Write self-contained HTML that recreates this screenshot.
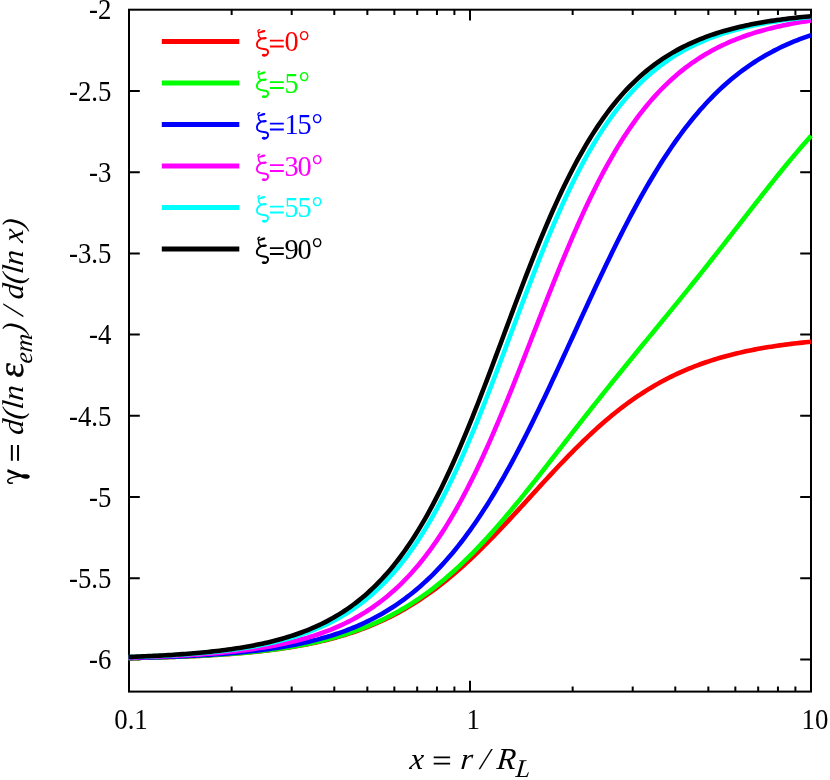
<!DOCTYPE html>
<html><head><meta charset="utf-8"><title>plot</title>
<style>
html,body{margin:0;padding:0;background:#fff;}
svg{display:block;will-change:transform;}
text{font-family:"Liberation Serif",serif;}
</style></head><body>
<svg width="830" height="780" viewBox="0 0 830 780">
<rect x="0" y="0" width="830" height="780" fill="#ffffff"/>
<g stroke="#000" stroke-width="2" fill="none" stroke-linecap="butt">
<rect x="129.00" y="9.70" width="682.00" height="681.90"/>
<path d="M231.65 691.60 v-5.20 M231.65 9.70 v5.20"/>
<path d="M291.70 691.60 v-5.20 M291.70 9.70 v5.20"/>
<path d="M334.30 691.60 v-5.20 M334.30 9.70 v5.20"/>
<path d="M367.35 691.60 v-5.20 M367.35 9.70 v5.20"/>
<path d="M394.35 691.60 v-5.20 M394.35 9.70 v5.20"/>
<path d="M417.18 691.60 v-5.20 M417.18 9.70 v5.20"/>
<path d="M436.95 691.60 v-5.20 M436.95 9.70 v5.20"/>
<path d="M454.40 691.60 v-5.20 M454.40 9.70 v5.20"/>
<path d="M470.00 691.60 v-10.80 M470.00 9.70 v10.80"/>
<path d="M572.65 691.60 v-5.20 M572.65 9.70 v5.20"/>
<path d="M632.70 691.60 v-5.20 M632.70 9.70 v5.20"/>
<path d="M675.30 691.60 v-5.20 M675.30 9.70 v5.20"/>
<path d="M708.35 691.60 v-5.20 M708.35 9.70 v5.20"/>
<path d="M735.35 691.60 v-5.20 M735.35 9.70 v5.20"/>
<path d="M758.18 691.60 v-5.20 M758.18 9.70 v5.20"/>
<path d="M777.95 691.60 v-5.20 M777.95 9.70 v5.20"/>
<path d="M795.40 691.60 v-5.20 M795.40 9.70 v5.20"/>
<path d="M129.00 90.93 h10.80 M811.00 90.93 h-10.80"/>
<path d="M129.00 172.16 h10.80 M811.00 172.16 h-10.80"/>
<path d="M129.00 253.39 h10.80 M811.00 253.39 h-10.80"/>
<path d="M129.00 334.62 h10.80 M811.00 334.62 h-10.80"/>
<path d="M129.00 415.85 h10.80 M811.00 415.85 h-10.80"/>
<path d="M129.00 497.08 h10.80 M811.00 497.08 h-10.80"/>
<path d="M129.00 578.31 h10.80 M811.00 578.31 h-10.80"/>
<path d="M129.00 659.54 h10.80 M811.00 659.54 h-10.80"/>
</g>
<g fill="none" stroke-width="4.6" stroke-linecap="butt" stroke-linejoin="round">
<path d="M128.50 658.11 L131.34 658.06 L134.19 658.00 L137.03 657.94 L139.88 657.88 L142.72 657.81 L145.57 657.74 L148.41 657.67 L151.25 657.60 L154.10 657.53 L156.94 657.45 L159.79 657.37 L162.63 657.28 L165.48 657.19 L168.32 657.10 L171.17 657.01 L174.01 656.91 L176.85 656.81 L179.70 656.70 L182.54 656.59 L185.39 656.48 L188.23 656.36 L191.08 656.23 L193.92 656.11 L196.76 655.97 L199.61 655.84 L202.45 655.69 L205.30 655.54 L208.14 655.39 L210.99 655.23 L213.83 655.06 L216.68 654.89 L219.52 654.71 L222.36 654.52 L225.21 654.33 L228.05 654.13 L230.90 653.92 L233.74 653.70 L236.59 653.48 L239.43 653.25 L242.28 653.01 L245.12 652.76 L247.96 652.50 L250.81 652.23 L253.65 651.95 L256.50 651.66 L259.34 651.36 L262.19 651.04 L265.03 650.72 L267.87 650.38 L270.72 650.04 L273.56 649.68 L276.41 649.30 L279.25 648.91 L282.10 648.51 L284.94 648.09 L287.78 647.66 L290.63 647.22 L293.47 646.75 L296.32 646.27 L299.16 645.77 L302.01 645.26 L304.85 644.72 L307.70 644.17 L310.54 643.60 L313.38 643.01 L316.23 642.39 L319.07 641.76 L321.92 641.10 L324.76 640.42 L327.61 639.72 L330.45 638.99 L333.29 638.24 L336.14 637.46 L338.98 636.66 L341.83 635.83 L344.67 634.97 L347.52 634.08 L350.36 633.17 L353.21 632.22 L356.05 631.25 L358.89 630.24 L361.74 629.20 L364.58 628.12 L367.43 627.02 L370.27 625.88 L373.12 624.70 L375.96 623.49 L378.81 622.24 L381.65 620.95 L384.49 619.62 L387.34 618.26 L390.18 616.85 L393.03 615.41 L395.87 613.92 L398.72 612.40 L401.56 610.83 L404.40 609.21 L407.25 607.56 L410.09 605.86 L412.94 604.12 L415.78 602.33 L418.63 600.50 L421.47 598.62 L424.31 596.69 L427.16 594.72 L430.00 592.71 L432.85 590.64 L435.69 588.54 L438.54 586.38 L441.38 584.18 L444.23 581.93 L447.07 579.64 L449.91 577.31 L452.76 574.92 L455.60 572.50 L458.45 570.03 L461.29 567.52 L464.14 564.96 L466.98 562.36 L469.82 559.73 L472.67 557.05 L475.51 554.34 L478.36 551.59 L481.20 548.80 L484.05 545.98 L486.89 543.13 L489.74 540.24 L492.58 537.33 L495.42 534.38 L498.27 531.42 L501.11 528.42 L503.96 525.41 L506.80 522.37 L509.65 519.32 L512.49 516.25 L515.33 513.17 L518.18 510.07 L521.02 506.97 L523.87 503.85 L526.71 500.74 L529.56 497.62 L532.40 494.50 L535.25 491.38 L538.09 488.27 L540.93 485.16 L543.78 482.06 L546.62 478.97 L549.47 475.90 L552.31 472.84 L555.16 469.80 L558.00 466.77 L560.85 463.77 L563.69 460.80 L566.53 457.84 L569.38 454.92 L572.22 452.02 L575.07 449.16 L577.91 446.33 L580.76 443.53 L583.60 440.77 L586.44 438.04 L589.29 435.35 L592.13 432.70 L594.98 430.09 L597.82 427.52 L600.67 424.99 L603.51 422.51 L606.36 420.07 L609.20 417.67 L612.04 415.32 L614.89 413.01 L617.73 410.75 L620.58 408.53 L623.42 406.36 L626.27 404.24 L629.11 402.16 L631.95 400.13 L634.80 398.14 L637.64 396.20 L640.49 394.31 L643.33 392.46 L646.18 390.65 L649.02 388.90 L651.87 387.18 L654.71 385.51 L657.55 383.88 L660.40 382.30 L663.24 380.76 L666.09 379.26 L668.93 377.80 L671.78 376.38 L674.62 375.00 L677.46 373.66 L680.31 372.36 L683.15 371.10 L686.00 369.88 L688.84 368.69 L691.69 367.53 L694.53 366.41 L697.38 365.33 L700.22 364.28 L703.06 363.26 L705.91 362.27 L708.75 361.31 L711.60 360.39 L714.44 359.49 L717.29 358.62 L720.13 357.78 L722.97 356.97 L725.82 356.18 L728.66 355.42 L731.51 354.69 L734.35 353.98 L737.20 353.29 L740.04 352.62 L742.88 351.98 L745.73 351.36 L748.57 350.76 L751.42 350.18 L754.26 349.62 L757.11 349.08 L759.95 348.56 L762.80 348.06 L765.64 347.57 L768.48 347.10 L771.33 346.65 L774.17 346.21 L777.02 345.79 L779.86 345.38 L782.71 344.99 L785.55 344.61 L788.39 344.25 L791.24 343.89 L794.08 343.55 L796.93 343.23 L799.77 342.91 L802.62 342.61 L805.46 342.31 L808.31 342.03 L811.15 341.76" stroke="#ff0000"/>
<path d="M128.50 658.09 L131.34 658.03 L134.19 657.97 L137.03 657.91 L139.88 657.85 L142.72 657.78 L145.57 657.72 L148.41 657.65 L151.25 657.57 L154.10 657.49 L156.94 657.42 L159.79 657.33 L162.63 657.25 L165.48 657.16 L168.32 657.06 L171.17 656.97 L174.01 656.87 L176.85 656.76 L179.70 656.66 L182.54 656.55 L185.39 656.43 L188.23 656.31 L191.08 656.18 L193.92 656.05 L196.76 655.92 L199.61 655.78 L202.45 655.63 L205.30 655.48 L208.14 655.32 L210.99 655.16 L213.83 654.99 L216.68 654.81 L219.52 654.63 L222.36 654.44 L225.21 654.25 L228.05 654.04 L230.90 653.83 L233.74 653.61 L236.59 653.38 L239.43 653.15 L242.28 652.90 L245.12 652.65 L247.96 652.38 L250.81 652.11 L253.65 651.82 L256.50 651.53 L259.34 651.22 L262.19 650.90 L265.03 650.57 L267.87 650.23 L270.72 649.88 L273.56 649.51 L276.41 649.13 L279.25 648.73 L282.10 648.32 L284.94 647.90 L287.78 647.46 L290.63 647.00 L293.47 646.53 L296.32 646.04 L299.16 645.53 L302.01 645.00 L304.85 644.46 L307.70 643.90 L310.54 643.31 L313.38 642.71 L316.23 642.08 L319.07 641.43 L321.92 640.76 L324.76 640.06 L327.61 639.35 L330.45 638.60 L333.29 637.83 L336.14 637.04 L338.98 636.21 L341.83 635.36 L344.67 634.48 L347.52 633.57 L350.36 632.64 L353.21 631.66 L356.05 630.66 L358.89 629.63 L361.74 628.56 L364.58 627.46 L367.43 626.32 L370.27 625.14 L373.12 623.93 L375.96 622.68 L378.81 621.39 L381.65 620.07 L384.49 618.70 L387.34 617.29 L390.18 615.84 L393.03 614.35 L395.87 612.81 L398.72 611.23 L401.56 609.60 L404.40 607.93 L407.25 606.22 L410.09 604.45 L412.94 602.64 L415.78 600.78 L418.63 598.87 L421.47 596.91 L424.31 594.90 L427.16 592.85 L430.00 590.74 L432.85 588.58 L435.69 586.37 L438.54 584.11 L441.38 581.80 L444.23 579.43 L447.07 577.02 L449.91 574.55 L452.76 572.03 L455.60 569.47 L458.45 566.85 L461.29 564.18 L464.14 561.46 L466.98 558.69 L469.82 555.88 L472.67 553.02 L475.51 550.10 L478.36 547.15 L481.20 544.15 L484.05 541.10 L486.89 538.01 L489.74 534.88 L492.58 531.71 L495.42 528.50 L498.27 525.25 L501.11 521.97 L503.96 518.65 L506.80 515.30 L509.65 511.91 L512.49 508.50 L515.33 505.06 L518.18 501.59 L521.02 498.09 L523.87 494.58 L526.71 491.04 L529.56 487.48 L532.40 483.90 L535.25 480.31 L538.09 476.71 L540.93 473.09 L543.78 469.46 L546.62 465.82 L549.47 462.17 L552.31 458.52 L555.16 454.87 L558.00 451.21 L560.85 447.55 L563.69 443.89 L566.53 440.23 L569.38 436.57 L572.22 432.92 L575.07 429.27 L577.91 425.62 L580.76 421.99 L583.60 418.36 L586.44 414.73 L589.29 411.12 L592.13 407.51 L594.98 403.92 L597.82 400.33 L600.67 396.75 L603.51 393.18 L606.36 389.62 L609.20 386.07 L612.04 382.53 L614.89 379.00 L617.73 375.48 L620.58 371.96 L623.42 368.46 L626.27 364.96 L629.11 361.47 L631.95 357.98 L634.80 354.50 L637.64 351.02 L640.49 347.55 L643.33 344.08 L646.18 340.62 L649.02 337.15 L651.87 333.69 L654.71 330.22 L657.55 326.76 L660.40 323.29 L663.24 319.82 L666.09 316.34 L668.93 312.87 L671.78 309.38 L674.62 305.89 L677.46 302.40 L680.31 298.90 L683.15 295.38 L686.00 291.87 L688.84 288.34 L691.69 284.80 L694.53 281.26 L697.38 277.70 L700.22 274.14 L703.06 270.56 L705.91 266.98 L708.75 263.39 L711.60 259.79 L714.44 256.18 L717.29 252.56 L720.13 248.93 L722.97 245.30 L725.82 241.65 L728.66 238.01 L731.51 234.36 L734.35 230.70 L737.20 227.04 L740.04 223.38 L742.88 219.72 L745.73 216.06 L748.57 212.40 L751.42 208.75 L754.26 205.10 L757.11 201.46 L759.95 197.83 L762.80 194.20 L765.64 190.59 L768.48 186.99 L771.33 183.41 L774.17 179.84 L777.02 176.29 L779.86 172.77 L782.71 169.26 L785.55 165.78 L788.39 162.33 L791.24 158.90 L794.08 155.50 L796.93 152.13 L799.77 148.80 L802.62 145.50 L805.46 142.23 L808.31 139.00 L811.15 135.82" stroke="#00ff00"/>
<path d="M128.50 657.94 L131.34 657.87 L134.19 657.81 L137.03 657.74 L139.88 657.67 L142.72 657.60 L145.57 657.52 L148.41 657.44 L151.25 657.36 L154.10 657.27 L156.94 657.19 L159.79 657.09 L162.63 657.00 L165.48 656.90 L168.32 656.80 L171.17 656.69 L174.01 656.58 L176.85 656.46 L179.70 656.34 L182.54 656.22 L185.39 656.09 L188.23 655.96 L191.08 655.82 L193.92 655.67 L196.76 655.52 L199.61 655.36 L202.45 655.20 L205.30 655.03 L208.14 654.86 L210.99 654.68 L213.83 654.49 L216.68 654.29 L219.52 654.09 L222.36 653.88 L225.21 653.66 L228.05 653.43 L230.90 653.19 L233.74 652.94 L236.59 652.69 L239.43 652.42 L242.28 652.15 L245.12 651.86 L247.96 651.56 L250.81 651.26 L253.65 650.94 L256.50 650.60 L259.34 650.26 L262.19 649.90 L265.03 649.53 L267.87 649.14 L270.72 648.74 L273.56 648.33 L276.41 647.90 L279.25 647.45 L282.10 646.99 L284.94 646.50 L287.78 646.01 L290.63 645.49 L293.47 644.95 L296.32 644.39 L299.16 643.81 L302.01 643.21 L304.85 642.59 L307.70 641.94 L310.54 641.28 L313.38 640.58 L316.23 639.86 L319.07 639.12 L321.92 638.34 L324.76 637.54 L327.61 636.71 L330.45 635.85 L333.29 634.96 L336.14 634.03 L338.98 633.08 L341.83 632.08 L344.67 631.06 L347.52 629.99 L350.36 628.89 L353.21 627.75 L356.05 626.57 L358.89 625.35 L361.74 624.09 L364.58 622.78 L367.43 621.42 L370.27 620.02 L373.12 618.57 L375.96 617.08 L378.81 615.53 L381.65 613.93 L384.49 612.27 L387.34 610.57 L390.18 608.80 L393.03 606.98 L395.87 605.09 L398.72 603.15 L401.56 601.14 L404.40 599.07 L407.25 596.94 L410.09 594.73 L412.94 592.46 L415.78 590.12 L418.63 587.71 L421.47 585.22 L424.31 582.66 L427.16 580.02 L430.00 577.31 L432.85 574.52 L435.69 571.65 L438.54 568.69 L441.38 565.66 L444.23 562.54 L447.07 559.33 L449.91 556.04 L452.76 552.67 L455.60 549.20 L458.45 545.65 L461.29 542.01 L464.14 538.28 L466.98 534.45 L469.82 530.54 L472.67 526.54 L475.51 522.44 L478.36 518.25 L481.20 513.98 L484.05 509.61 L486.89 505.15 L489.74 500.60 L492.58 495.96 L495.42 491.23 L498.27 486.41 L501.11 481.51 L503.96 476.53 L506.80 471.45 L509.65 466.30 L512.49 461.07 L515.33 455.76 L518.18 450.37 L521.02 444.91 L523.87 439.38 L526.71 433.78 L529.56 428.11 L532.40 422.39 L535.25 416.60 L538.09 410.76 L540.93 404.86 L543.78 398.92 L546.62 392.93 L549.47 386.90 L552.31 380.84 L555.16 374.74 L558.00 368.61 L560.85 362.46 L563.69 356.28 L566.53 350.10 L569.38 343.90 L572.22 337.69 L575.07 331.48 L577.91 325.28 L580.76 319.08 L583.60 312.89 L586.44 306.72 L589.29 300.56 L592.13 294.44 L594.98 288.34 L597.82 282.27 L600.67 276.24 L603.51 270.26 L606.36 264.31 L609.20 258.42 L612.04 252.58 L614.89 246.79 L617.73 241.06 L620.58 235.40 L623.42 229.80 L626.27 224.27 L629.11 218.81 L631.95 213.42 L634.80 208.11 L637.64 202.88 L640.49 197.73 L643.33 192.66 L646.18 187.67 L649.02 182.77 L651.87 177.96 L654.71 173.23 L657.55 168.59 L660.40 164.04 L663.24 159.59 L666.09 155.22 L668.93 150.94 L671.78 146.75 L674.62 142.66 L677.46 138.66 L680.31 134.74 L683.15 130.92 L686.00 127.19 L688.84 123.55 L691.69 120.00 L694.53 116.54 L697.38 113.16 L700.22 109.87 L703.06 106.67 L705.91 103.55 L708.75 100.51 L711.60 97.56 L714.44 94.69 L717.29 91.90 L720.13 89.19 L722.97 86.55 L725.82 83.99 L728.66 81.51 L731.51 79.09 L734.35 76.75 L737.20 74.48 L740.04 72.28 L742.88 70.14 L745.73 68.07 L748.57 66.07 L751.42 64.13 L754.26 62.24 L757.11 60.42 L759.95 58.66 L762.80 56.95 L765.64 55.29 L768.48 53.69 L771.33 52.15 L774.17 50.65 L777.02 49.20 L779.86 47.80 L782.71 46.45 L785.55 45.14 L788.39 43.88 L791.24 42.66 L794.08 41.48 L796.93 40.34 L799.77 39.23 L802.62 38.17 L805.46 37.14 L808.31 36.15 L811.15 35.20" stroke="#0000ff"/>
<path d="M128.50 657.58 L131.34 657.51 L134.19 657.43 L137.03 657.35 L139.88 657.26 L142.72 657.17 L145.57 657.08 L148.41 656.98 L151.25 656.88 L154.10 656.78 L156.94 656.67 L159.79 656.56 L162.63 656.44 L165.48 656.32 L168.32 656.19 L171.17 656.06 L174.01 655.92 L176.85 655.78 L179.70 655.64 L182.54 655.48 L185.39 655.32 L188.23 655.16 L191.08 654.99 L193.92 654.81 L196.76 654.62 L199.61 654.43 L202.45 654.23 L205.30 654.02 L208.14 653.81 L210.99 653.58 L213.83 653.35 L216.68 653.11 L219.52 652.86 L222.36 652.59 L225.21 652.32 L228.05 652.04 L230.90 651.75 L233.74 651.44 L236.59 651.13 L239.43 650.80 L242.28 650.45 L245.12 650.10 L247.96 649.73 L250.81 649.35 L253.65 648.95 L256.50 648.53 L259.34 648.10 L262.19 647.65 L265.03 647.19 L267.87 646.71 L270.72 646.21 L273.56 645.68 L276.41 645.14 L279.25 644.58 L282.10 644.00 L284.94 643.39 L287.78 642.76 L290.63 642.10 L293.47 641.42 L296.32 640.72 L299.16 639.98 L302.01 639.22 L304.85 638.43 L307.70 637.60 L310.54 636.75 L313.38 635.86 L316.23 634.94 L319.07 633.98 L321.92 632.99 L324.76 631.95 L327.61 630.88 L330.45 629.77 L333.29 628.61 L336.14 627.41 L338.98 626.17 L341.83 624.87 L344.67 623.53 L347.52 622.14 L350.36 620.69 L353.21 619.19 L356.05 617.64 L358.89 616.02 L361.74 614.34 L364.58 612.61 L367.43 610.80 L370.27 608.93 L373.12 607.00 L375.96 604.99 L378.81 602.90 L381.65 600.74 L384.49 598.51 L387.34 596.19 L390.18 593.79 L393.03 591.30 L395.87 588.73 L398.72 586.07 L401.56 583.31 L404.40 580.46 L407.25 577.51 L410.09 574.46 L412.94 571.30 L415.78 568.04 L418.63 564.68 L421.47 561.20 L424.31 557.61 L427.16 553.91 L430.00 550.09 L432.85 546.16 L435.69 542.10 L438.54 537.92 L441.38 533.62 L444.23 529.20 L447.07 524.64 L449.91 519.97 L452.76 515.16 L455.60 510.23 L458.45 505.17 L461.29 499.98 L464.14 494.67 L466.98 489.23 L469.82 483.66 L472.67 477.97 L475.51 472.16 L478.36 466.22 L481.20 460.17 L484.05 454.01 L486.89 447.73 L489.74 441.35 L492.58 434.87 L495.42 428.28 L498.27 421.61 L501.11 414.84 L503.96 407.99 L506.80 401.07 L509.65 394.07 L512.49 387.02 L515.33 379.90 L518.18 372.74 L521.02 365.53 L523.87 358.30 L526.71 351.03 L529.56 343.75 L532.40 336.45 L535.25 329.16 L538.09 321.87 L540.93 314.59 L543.78 307.34 L546.62 300.12 L549.47 292.93 L552.31 285.79 L555.16 278.70 L558.00 271.68 L560.85 264.72 L563.69 257.83 L566.53 251.02 L569.38 244.30 L572.22 237.67 L575.07 231.13 L577.91 224.70 L580.76 218.37 L583.60 212.15 L586.44 206.04 L589.29 200.05 L592.13 194.18 L594.98 188.43 L597.82 182.80 L600.67 177.29 L603.51 171.91 L606.36 166.66 L609.20 161.54 L612.04 156.54 L614.89 151.67 L617.73 146.93 L620.58 142.32 L623.42 137.83 L626.27 133.46 L629.11 129.22 L631.95 125.11 L634.80 121.11 L637.64 117.23 L640.49 113.47 L643.33 109.83 L646.18 106.30 L649.02 102.87 L651.87 99.56 L654.71 96.36 L657.55 93.25 L660.40 90.25 L663.24 87.35 L666.09 84.55 L668.93 81.84 L671.78 79.22 L674.62 76.69 L677.46 74.25 L680.31 71.89 L683.15 69.61 L686.00 67.41 L688.84 65.29 L691.69 63.24 L694.53 61.27 L697.38 59.37 L700.22 57.53 L703.06 55.76 L705.91 54.05 L708.75 52.41 L711.60 50.82 L714.44 49.29 L717.29 47.82 L720.13 46.40 L722.97 45.03 L725.82 43.72 L728.66 42.45 L731.51 41.22 L734.35 40.05 L737.20 38.91 L740.04 37.82 L742.88 36.77 L745.73 35.75 L748.57 34.78 L751.42 33.84 L754.26 32.93 L757.11 32.06 L759.95 31.22 L762.80 30.42 L765.64 29.64 L768.48 28.89 L771.33 28.17 L774.17 27.48 L777.02 26.81 L779.86 26.16 L782.71 25.55 L785.55 24.95 L788.39 24.38 L791.24 23.82 L794.08 23.29 L796.93 22.78 L799.77 22.29 L802.62 21.82 L805.46 21.36 L808.31 20.92 L811.15 20.50" stroke="#ff00ff"/>
<path d="M128.50 657.14 L131.34 657.05 L134.19 656.95 L137.03 656.85 L139.88 656.74 L142.72 656.63 L145.57 656.52 L148.41 656.40 L151.25 656.28 L154.10 656.15 L156.94 656.02 L159.79 655.88 L162.63 655.74 L165.48 655.59 L168.32 655.43 L171.17 655.27 L174.01 655.10 L176.85 654.93 L179.70 654.75 L182.54 654.56 L185.39 654.36 L188.23 654.16 L191.08 653.95 L193.92 653.73 L196.76 653.50 L199.61 653.26 L202.45 653.02 L205.30 652.76 L208.14 652.49 L210.99 652.22 L213.83 651.93 L216.68 651.63 L219.52 651.32 L222.36 650.99 L225.21 650.66 L228.05 650.31 L230.90 649.94 L233.74 649.57 L236.59 649.17 L239.43 648.77 L242.28 648.34 L245.12 647.90 L247.96 647.44 L250.81 646.97 L253.65 646.47 L256.50 645.95 L259.34 645.42 L262.19 644.86 L265.03 644.28 L267.87 643.68 L270.72 643.06 L273.56 642.41 L276.41 641.73 L279.25 641.03 L282.10 640.30 L284.94 639.54 L287.78 638.75 L290.63 637.93 L293.47 637.08 L296.32 636.19 L299.16 635.27 L302.01 634.31 L304.85 633.32 L307.70 632.28 L310.54 631.20 L313.38 630.09 L316.23 628.92 L319.07 627.72 L321.92 626.46 L324.76 625.16 L327.61 623.80 L330.45 622.39 L333.29 620.93 L336.14 619.41 L338.98 617.83 L341.83 616.19 L344.67 614.48 L347.52 612.71 L350.36 610.87 L353.21 608.97 L356.05 606.98 L358.89 604.93 L361.74 602.79 L364.58 600.57 L367.43 598.27 L370.27 595.89 L373.12 593.41 L375.96 590.84 L378.81 588.18 L381.65 585.42 L384.49 582.56 L387.34 579.60 L390.18 576.53 L393.03 573.35 L395.87 570.06 L398.72 566.66 L401.56 563.14 L404.40 559.50 L407.25 555.74 L410.09 551.85 L412.94 547.83 L415.78 543.69 L418.63 539.41 L421.47 535.00 L424.31 530.46 L427.16 525.78 L430.00 520.96 L432.85 516.01 L435.69 510.91 L438.54 505.68 L441.38 500.31 L444.23 494.79 L447.07 489.14 L449.91 483.36 L452.76 477.43 L455.60 471.38 L458.45 465.19 L461.29 458.88 L464.14 452.44 L466.98 445.88 L469.82 439.20 L472.67 432.41 L475.51 425.52 L478.36 418.53 L481.20 411.44 L484.05 404.26 L486.89 397.01 L489.74 389.68 L492.58 382.29 L495.42 374.84 L498.27 367.34 L501.11 359.81 L503.96 352.24 L506.80 344.65 L509.65 337.05 L512.49 329.44 L515.33 321.85 L518.18 314.26 L521.02 306.71 L523.87 299.18 L526.71 291.70 L529.56 284.27 L532.40 276.90 L535.25 269.60 L538.09 262.37 L540.93 255.23 L543.78 248.18 L546.62 241.22 L549.47 234.36 L552.31 227.61 L555.16 220.98 L558.00 214.46 L560.85 208.07 L563.69 201.80 L566.53 195.66 L569.38 189.65 L572.22 183.78 L575.07 178.04 L577.91 172.44 L580.76 166.98 L583.60 161.65 L586.44 156.47 L589.29 151.43 L592.13 146.52 L594.98 141.75 L597.82 137.12 L600.67 132.63 L603.51 128.27 L606.36 124.04 L609.20 119.94 L612.04 115.97 L614.89 112.13 L617.73 108.41 L620.58 104.82 L623.42 101.34 L626.27 97.98 L629.11 94.73 L631.95 91.59 L634.80 88.56 L637.64 85.63 L640.49 82.81 L643.33 80.09 L646.18 77.46 L649.02 74.93 L651.87 72.48 L654.71 70.13 L657.55 67.86 L660.40 65.67 L663.24 63.56 L666.09 61.53 L668.93 59.58 L671.78 57.69 L674.62 55.88 L677.46 54.13 L680.31 52.45 L683.15 50.83 L686.00 49.27 L688.84 47.77 L691.69 46.33 L694.53 44.94 L697.38 43.61 L700.22 42.32 L703.06 41.08 L705.91 39.89 L708.75 38.74 L711.60 37.64 L714.44 36.58 L717.29 35.56 L720.13 34.58 L722.97 33.63 L725.82 32.73 L728.66 31.85 L731.51 31.01 L734.35 30.20 L737.20 29.42 L740.04 28.67 L742.88 27.95 L745.73 27.26 L748.57 26.60 L751.42 25.95 L754.26 25.34 L757.11 24.74 L759.95 24.17 L762.80 23.62 L765.64 23.10 L768.48 22.59 L771.33 22.10 L774.17 21.63 L777.02 21.18 L779.86 20.74 L782.71 20.33 L785.55 19.92 L788.39 19.54 L791.24 19.16 L794.08 18.80 L796.93 18.46 L799.77 18.13 L802.62 17.81 L805.46 17.50 L808.31 17.21 L811.15 16.92" stroke="#00ffff"/>
<path d="M128.50 656.95 L131.34 656.85 L134.19 656.75 L137.03 656.64 L139.88 656.52 L142.72 656.40 L145.57 656.28 L148.41 656.15 L151.25 656.02 L154.10 655.88 L156.94 655.74 L159.79 655.59 L162.63 655.43 L165.48 655.27 L168.32 655.10 L171.17 654.93 L174.01 654.75 L176.85 654.56 L179.70 654.37 L182.54 654.16 L185.39 653.95 L188.23 653.73 L191.08 653.50 L193.92 653.27 L196.76 653.02 L199.61 652.76 L202.45 652.50 L205.30 652.22 L208.14 651.93 L210.99 651.63 L213.83 651.32 L216.68 651.00 L219.52 650.66 L222.36 650.31 L225.21 649.95 L228.05 649.57 L230.90 649.18 L233.74 648.77 L236.59 648.34 L239.43 647.90 L242.28 647.44 L245.12 646.96 L247.96 646.47 L250.81 645.95 L253.65 645.42 L256.50 644.86 L259.34 644.28 L262.19 643.68 L265.03 643.05 L267.87 642.40 L270.72 641.72 L273.56 641.02 L276.41 640.29 L279.25 639.53 L282.10 638.73 L284.94 637.91 L287.78 637.06 L290.63 636.17 L293.47 635.24 L296.32 634.28 L299.16 633.28 L302.01 632.25 L304.85 631.17 L307.70 630.04 L310.54 628.88 L313.38 627.66 L316.23 626.40 L319.07 625.09 L321.92 623.73 L324.76 622.32 L327.61 620.85 L330.45 619.32 L333.29 617.73 L336.14 616.08 L338.98 614.37 L341.83 612.59 L344.67 610.74 L347.52 608.82 L350.36 606.82 L353.21 604.75 L356.05 602.60 L358.89 600.37 L361.74 598.06 L364.58 595.65 L367.43 593.16 L370.27 590.57 L373.12 587.89 L375.96 585.11 L378.81 582.23 L381.65 579.24 L384.49 576.15 L387.34 572.94 L390.18 569.63 L393.03 566.19 L395.87 562.64 L398.72 558.97 L401.56 555.17 L404.40 551.24 L407.25 547.19 L410.09 543.01 L412.94 538.69 L415.78 534.24 L418.63 529.65 L421.47 524.92 L424.31 520.06 L427.16 515.05 L430.00 509.91 L432.85 504.62 L435.69 499.19 L438.54 493.62 L441.38 487.91 L444.23 482.07 L447.07 476.08 L449.91 469.97 L452.76 463.72 L455.60 457.34 L458.45 450.84 L461.29 444.21 L464.14 437.47 L466.98 430.62 L469.82 423.67 L472.67 416.61 L475.51 409.46 L478.36 402.22 L481.20 394.91 L484.05 387.52 L486.89 380.07 L489.74 372.56 L492.58 365.01 L495.42 357.43 L498.27 349.81 L501.11 342.18 L503.96 334.53 L506.80 326.89 L509.65 319.25 L512.49 311.64 L515.33 304.05 L518.18 296.50 L521.02 289.00 L523.87 281.55 L526.71 274.16 L529.56 266.85 L532.40 259.61 L535.25 252.47 L538.09 245.41 L540.93 238.46 L543.78 231.61 L546.62 224.87 L549.47 218.25 L552.31 211.75 L555.16 205.37 L558.00 199.13 L560.85 193.01 L563.69 187.03 L566.53 181.19 L569.38 175.49 L572.22 169.92 L575.07 164.50 L577.91 159.21 L580.76 154.07 L583.60 149.07 L586.44 144.20 L589.29 139.48 L592.13 134.90 L594.98 130.45 L597.82 126.13 L600.67 121.95 L603.51 117.90 L606.36 113.98 L609.20 110.19 L612.04 106.52 L614.89 102.97 L617.73 99.54 L620.58 96.22 L623.42 93.02 L626.27 89.93 L629.11 86.94 L631.95 84.06 L634.80 81.29 L637.64 78.61 L640.49 76.02 L643.33 73.53 L646.18 71.13 L649.02 68.81 L651.87 66.59 L654.71 64.44 L657.55 62.37 L660.40 60.38 L663.24 58.46 L666.09 56.61 L668.93 54.83 L671.78 53.12 L674.62 51.47 L677.46 49.88 L680.31 48.36 L683.15 46.89 L686.00 45.47 L688.84 44.11 L691.69 42.81 L694.53 41.55 L697.38 40.33 L700.22 39.17 L703.06 38.05 L705.91 36.97 L708.75 35.93 L711.60 34.93 L714.44 33.97 L717.29 33.05 L720.13 32.16 L722.97 31.31 L725.82 30.49 L728.66 29.70 L731.51 28.94 L734.35 28.21 L737.20 27.50 L740.04 26.83 L742.88 26.17 L745.73 25.55 L748.57 24.95 L751.42 24.37 L754.26 23.81 L757.11 23.28 L759.95 22.76 L762.80 22.26 L765.64 21.79 L768.48 21.33 L771.33 20.89 L774.17 20.46 L777.02 20.06 L779.86 19.66 L782.71 19.29 L785.55 18.92 L788.39 18.57 L791.24 18.24 L794.08 17.91 L796.93 17.60 L799.77 17.30 L802.62 17.01 L805.46 16.74 L808.31 16.47 L811.15 16.22" stroke="#000000"/>
</g>
<g stroke-width="4.8" fill="none">
<line x1="161.8" y1="41.50" x2="239.3" y2="41.50" stroke="#ff0000"/>
<line x1="161.8" y1="83.00" x2="239.3" y2="83.00" stroke="#00ff00"/>
<line x1="161.8" y1="124.50" x2="239.3" y2="124.50" stroke="#0000ff"/>
<line x1="161.8" y1="166.00" x2="239.3" y2="166.00" stroke="#ff00ff"/>
<line x1="161.8" y1="207.50" x2="239.3" y2="207.50" stroke="#00ffff"/>
<line x1="161.8" y1="249.00" x2="239.3" y2="249.00" stroke="#000000"/>
</g>
<defs><g id="xi"><path d="M3.34 -11.92 C1.91 -11.72 1.19 -10.38 1.91 -9.05" fill="none" stroke="currentColor" stroke-width="1.35" stroke-linecap="round"/><path d="M1.91 -9.26 C3.96 -9.46 5.49 -11.72 8.32 -11.46 C9.49 -11.21 9.19 -9.67 8.06 -9.15 C6.26 -8.33 3.96 -8.23 1.91 -8.44 Z" fill="currentColor" stroke="none"/><path d="M2.52 -8.85 C1.91 -6.69 2.52 -4.38 4.57 -3.21" fill="none" stroke="currentColor" stroke-width="1.50" stroke-linecap="round"/><path d="M3.85 -3.62 C6.01 -3.92 8.06 -4.64 9.85 -4.33 C11.14 -4.03 10.52 -2.59 9.08 -2.23 C7.29 -1.77 5.49 -1.87 3.85 -2.38 Z" fill="currentColor" stroke="none"/><path d="M4.73 -2.69 C1.39 -1.31 -0.25 2.28 0.98 4.85 C2.16 7.26 6.52 7.26 10.01 7.97 C12.26 8.69 12.16 11.51 10.88 12.90 C10.01 13.82 8.83 14.23 7.80 14.08" fill="none" stroke="currentColor" stroke-width="1.95" stroke-linecap="round"/><path d="M5.60 13.05 C6.11 11.97 8.47 12.18 9.85 12.90 C10.37 14.23 8.57 15.15 7.14 15.05 C5.91 14.95 5.19 14.03 5.60 13.05 Z" fill="currentColor" stroke="none"/></g></defs>
<use href="#xi" x="256.3" y="41.50" color="#ff0000"/>
<path d="M269.9 40.55 H283.8 M269.9 46.45 H283.8" stroke="#ff0000" stroke-width="1.85" fill="none"/>
<text transform="translate(284.60 51.20) scale(0.9300 1)" font-size="30.50" text-anchor="start" fill="#ff0000" letter-spacing="-1.3">0</text>
<text transform="translate(298.56 50.90) scale(0.9600 1)" font-size="29.50" text-anchor="start" fill="#ff0000">°</text>
<use href="#xi" x="256.3" y="83.00" color="#00ff00"/>
<path d="M269.9 82.05 H283.8 M269.9 87.95 H283.8" stroke="#00ff00" stroke-width="1.85" fill="none"/>
<text transform="translate(284.60 92.70) scale(0.9300 1)" font-size="30.50" text-anchor="start" fill="#00ff00" letter-spacing="-1.3">5</text>
<text transform="translate(298.56 92.40) scale(0.9600 1)" font-size="29.50" text-anchor="start" fill="#00ff00">°</text>
<use href="#xi" x="256.3" y="124.50" color="#0000ff"/>
<path d="M269.9 123.55 H283.8 M269.9 129.45 H283.8" stroke="#0000ff" stroke-width="1.85" fill="none"/>
<text transform="translate(284.60 134.20) scale(0.9300 1)" font-size="30.50" text-anchor="start" fill="#0000ff" letter-spacing="-1.3">15</text>
<text transform="translate(311.53 133.90) scale(0.9600 1)" font-size="29.50" text-anchor="start" fill="#0000ff">°</text>
<use href="#xi" x="256.3" y="166.00" color="#ff00ff"/>
<path d="M269.9 165.05 H283.8 M269.9 170.95 H283.8" stroke="#ff00ff" stroke-width="1.85" fill="none"/>
<text transform="translate(284.60 175.70) scale(0.9300 1)" font-size="30.50" text-anchor="start" fill="#ff00ff" letter-spacing="-1.3">30</text>
<text transform="translate(311.53 175.40) scale(0.9600 1)" font-size="29.50" text-anchor="start" fill="#ff00ff">°</text>
<use href="#xi" x="256.3" y="207.50" color="#00ffff"/>
<path d="M269.9 206.55 H283.8 M269.9 212.45 H283.8" stroke="#00ffff" stroke-width="1.85" fill="none"/>
<text transform="translate(284.60 217.20) scale(0.9300 1)" font-size="30.50" text-anchor="start" fill="#00ffff" letter-spacing="-1.3">55</text>
<text transform="translate(311.53 216.90) scale(0.9600 1)" font-size="29.50" text-anchor="start" fill="#00ffff">°</text>
<use href="#xi" x="256.3" y="249.00" color="#000000"/>
<path d="M269.9 248.05 H283.8 M269.9 253.95 H283.8" stroke="#000000" stroke-width="1.85" fill="none"/>
<text transform="translate(284.60 258.70) scale(0.9300 1)" font-size="30.50" text-anchor="start" fill="#000000" letter-spacing="-1.3">90</text>
<text transform="translate(311.53 258.40) scale(0.9600 1)" font-size="29.50" text-anchor="start" fill="#000000">°</text>
<text transform="translate(111.40 19.40) scale(0.9250 1)" font-size="29.00" text-anchor="end" fill="#000">-2</text>
<text transform="translate(111.40 100.63) scale(0.9250 1)" font-size="29.00" text-anchor="end" fill="#000">-2.5</text>
<text transform="translate(111.40 181.86) scale(0.9250 1)" font-size="29.00" text-anchor="end" fill="#000">-3</text>
<text transform="translate(111.40 263.09) scale(0.9250 1)" font-size="29.00" text-anchor="end" fill="#000">-3.5</text>
<text transform="translate(111.40 344.32) scale(0.9250 1)" font-size="29.00" text-anchor="end" fill="#000">-4</text>
<text transform="translate(111.40 425.55) scale(0.9250 1)" font-size="29.00" text-anchor="end" fill="#000">-4.5</text>
<text transform="translate(111.40 506.78) scale(0.9250 1)" font-size="29.00" text-anchor="end" fill="#000">-5</text>
<text transform="translate(111.40 588.01) scale(0.9250 1)" font-size="29.00" text-anchor="end" fill="#000">-5.5</text>
<text transform="translate(111.40 669.24) scale(0.9250 1)" font-size="29.00" text-anchor="end" fill="#000">-6</text>
<text transform="translate(131.00 729.40) scale(0.9250 1)" font-size="29.00" text-anchor="middle" fill="#000">0.1</text>
<text transform="translate(473.30 729.40) scale(0.9250 1)" font-size="29.00" text-anchor="middle" fill="#000">1</text>
<text transform="translate(814.90 729.40) scale(0.9250 1)" font-size="29.00" text-anchor="middle" fill="#000">10</text>
<text transform="translate(409.2 768.6) scale(1.02 1) skewX(-5)" font-size="30.5" font-style="italic">x</text>
<path d="M433.7 757.35 H450.1 M433.7 763.65 H450.1" stroke="#000" stroke-width="1.9" fill="none"/>
<text transform="translate(460.0 768.6) scale(1.02 1) skewX(-5)" font-size="30.5" font-style="italic">r / R<tspan font-size="25.5" dy="8" dx="0.6">L</tspan></text>
<g fill="#000" stroke="none">
<path d="M7.7 469.0 L21.2 474.6 L19.2 476.5 L7.2 472.0 Z"/>
<path d="M18.6 474.9 C21 475 23 474.3 26 474.3 C28.5 474.3 29.8 475.5 29.8 476.5 C29.8 477.9 28 478.8 26 478.8 C23.5 478.8 21.5 476.9 18.6 476.4 Z"/>
</g>
<path d="M20 475.9 C13 476.9 8.2 478.3 7.7 480.6 C7.4 482.6 9.5 483.6 12.4 483.1" stroke="#000" stroke-width="1.5" fill="none" stroke-linecap="round"/>
<path d="M11.85 445 V460.8 M18.05 445 V460.8" stroke="#000" stroke-width="2.0" fill="none"/>
<text transform="translate(23.3 435.2) rotate(-90) scale(1.017 1) skewX(-5)" font-size="30" font-style="italic" text-anchor="start">d(ln <tspan font-style="normal" font-size="35.5" stroke="#000" stroke-width="0.45">ε</tspan><tspan font-size="25" dy="8.5">em</tspan><tspan dy="-8.5">) / d(ln x)</tspan></text>
</svg></body></html>
